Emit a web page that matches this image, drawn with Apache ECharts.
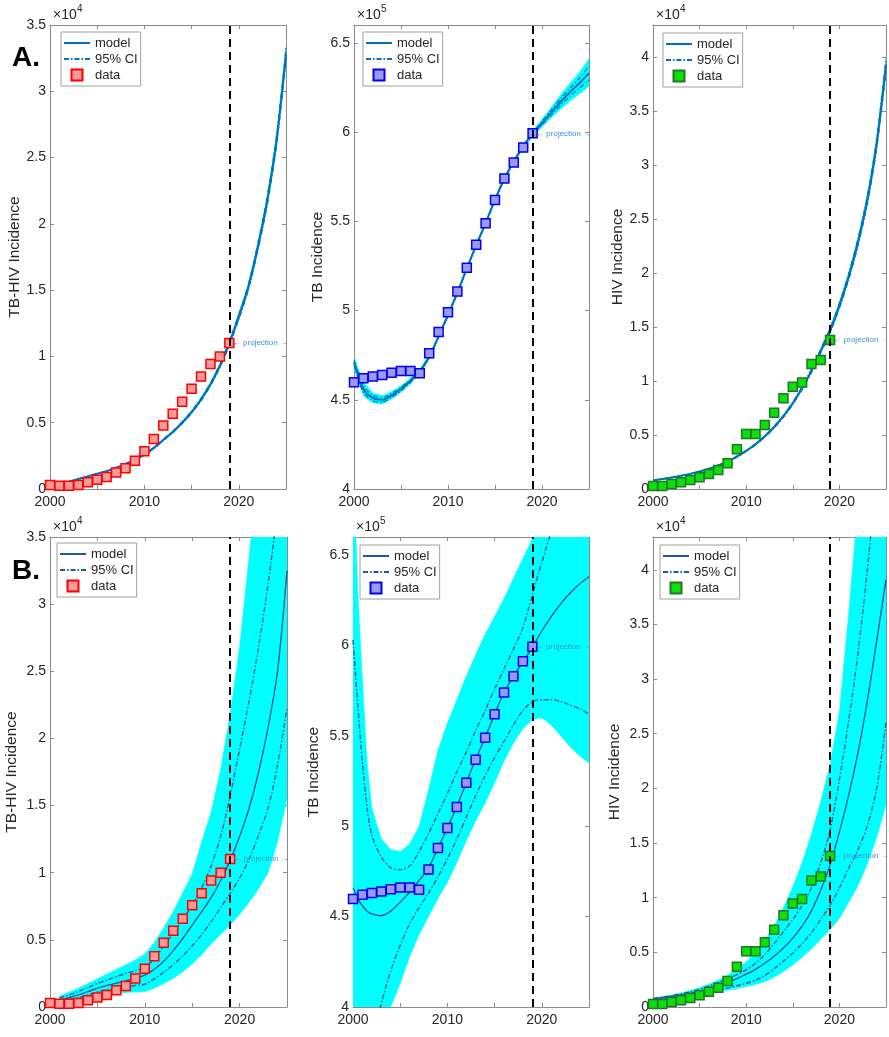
<!DOCTYPE html>
<html><head><meta charset="utf-8">
<script src="https://cdn.jsdelivr.net/npm/echarts@6/dist/echarts.min.js"></script>
<style>html,body{margin:0;padding:0;background:#fff}#c{width:889px;height:1037px}</style>
</head><body><div id="c"></div>
<script>
// ---------- years ----------
const dataYears = [2000,2001,2002,2003,2004,2005,2006,2007,2008,2009,2010,2011,2012,2013,2014,2015,2016,2017,2018,2019];
const yrs00 = [2000,2001,2002,2003,2004,2005,2006,2007,2008,2009,2010,2011,2012,2013,2014,2015,2016,2017,2018,2019,2020,2021,2022,2023,2024,2025];
const yrs01 = [2001,2002,2003,2004,2005,2006,2007,2008,2009,2010,2011,2012,2013,2014,2015,2016,2017,2018,2019,2020,2021,2022,2023,2024,2025];
const yrsB2 = [2000,2000.25,2000.5,2001,2001.5,2002,2003,2004,2005,2006,2007,2008,2009,2010,2011,2012,2013,2014,2015,2016,2017,2018,2019,2020,2021,2022,2023,2024,2025];

// ---------- observed data ----------
const tbhivData = [300,250,250,300,500,700,900,1240,1570,2130,2840,3770,4790,5670,6580,7570,8480,9420,10000,11020];
const tbData = [459800,462100,463000,463900,465200,466100,466100,464900,476000,488000,499000,510600,524000,536800,548900,561900,574000,582900,591300,599300];
const hivData = [280,280,460,620,830,1080,1390,1760,2380,3680,5100,5100,5930,7070,8400,9480,9880,11580,11950,13810];

// ---------- A: TB-HIV (2001-2025) ----------
const a1Model = [400,550,750,950,1150,1350,1600,1900,2200,2600,3100,3700,4300,5000,5800,6750,7900,9300,11000,13000,15200,18200,21700,26300,32800];
const a1CiUp  = [410,560,760,965,1170,1370,1625,1930,2235,2640,3150,3760,4370,5080,5890,6860,8020,9440,11170,13200,15430,18480,22030,26700,33300];
const a1CiLo  = [390,540,740,935,1130,1330,1575,1870,2165,2560,3050,3640,4230,4920,5710,6640,7780,9160,10830,12800,14970,17920,21370,25900,32300];
// ---------- A: TB (2000-2025) ----------
const a2Model  = [471000,456000,451000,450000,452500,456000,460500,466000,474000,485500,497500,510000,523500,536500,549000,562000,574000,583500,592000,599000,605000,611000,617000,622500,627500,633000];
const a2CiUp   = [472500,458000,452500,451300,453600,457000,461300,466600,474500,485900,497900,510300,523800,536800,549300,562300,574300,583800,592400,599600,606000,612400,618900,624700,630300,636800];
const a2CiLo   = [469500,454000,449500,448700,451400,455000,459700,465400,473500,485100,497100,509700,523200,536200,548700,561700,573700,583200,591600,598400,604000,609600,615100,620300,624700,629200];
const a2BandUp = [473800,459800,453800,452400,454500,457800,462000,467200,475000,486300,498300,510700,524200,537200,549700,562700,574700,584200,592900,600400,607200,614000,621000,627400,633700,641000];
const a2BandLo = [468200,452200,448200,447600,450500,454200,459000,464800,473000,484700,496700,509300,522800,535800,548300,561300,573300,582800,591100,597600,602800,608000,613000,617600,621500,625500];
// ---------- A: HIV (2000-2025) ----------
const a3Model = [800,920,1060,1220,1400,1620,1880,2180,2550,3000,3530,4150,4880,5750,6750,7950,9350,10950,12800,14700,17000,19700,22900,26800,32000,39300];
const a3CiUp  = [810,935,1075,1240,1420,1645,1910,2215,2590,3045,3585,4215,4955,5840,6855,8070,9490,11115,12990,14920,17260,20000,23250,27200,32480,39900];
const a3CiLo  = [790,905,1045,1200,1380,1595,1850,2145,2510,2955,3475,4085,4805,5660,6645,7830,9210,10785,12610,14480,16740,19400,22550,26400,31520,38700];

// ---------- B: TB-HIV (2001-2025) ----------
const b1BandUp = [800,1100,1400,1750,2100,2450,2800,3150,3500,3950,4800,5900,7100,8500,9900,12300,14500,17700,21800,26800,33500,41000,50000,60000,72000];
const b1CiUp   = [680,900,1150,1450,1750,2000,2250,2500,2700,2950,3600,4550,5500,6500,7600,8900,10500,12700,15700,19200,22800,26800,31500,37000,43000];
const b1Model  = [500,700,900,1150,1400,1600,1780,1950,2130,2370,2800,3400,4200,5100,6100,7100,8150,9400,10900,12700,14800,17500,20800,25000,32500];
const b1CiLo   = [430,560,700,900,1130,1280,1400,1500,1600,1700,2100,2600,3150,3800,4550,5400,6350,7400,8450,9600,11000,12800,14800,18000,22300];
const b1BandLo = [380,450,550,700,850,950,1020,1080,1120,1150,1400,1750,2150,2600,3200,3900,4700,5400,6100,6900,7800,8800,10000,12300,15500];
// ---------- B: TB (yrsB2) ----------
const b2BandUp = [700000,670000,630000,580000,535000,510000,493000,487000,486000,490000,500000,520000,542000,557000,570000,583000,595000,606000,616000,626000,637000,648000,659000,670000,680000,690000,700000,700000,700000];
const b2CiUp   = [603000,585000,567000,535000,510000,495000,483000,477000,476000,478000,486000,496000,507000,518000,530000,541000,553000,564000,576000,587000,598000,610000,628000,646000,663000,680000,695000,710000,725000];
const b2Model  = [466000,463000,460000,456000,453000,451500,450500,453000,458000,463500,470000,477000,488000,499000,511000,524000,537000,549000,562000,574000,583000,591000,599000,608000,616000,623000,629000,634000,638000];
const b2CiLo   = [355000,358000,361000,366000,372000,380000,402000,420000,434000,446000,455000,463000,472000,482000,493000,505000,517000,528000,538000,547000,556000,564000,569000,570000,570000,569000,567000,565000,562000];
const b2BandLo = [350000,352000,355000,360000,365000,370000,385000,400000,413000,428000,440000,450000,460000,469000,480000,492000,503000,513000,524000,536000,546000,554000,559000,560000,556000,550000,544000,539000,535000];
// ---------- B: HIV (2000-2025) ----------
const b3BandUp = [800,940,1100,1290,1510,1770,2080,2450,2900,3450,4100,5000,6100,7400,9100,11000,13200,15800,18800,22200,27000,36000,46000,56000,68000,82000];
const b3CiUp   = [780,900,1040,1200,1390,1620,1900,2230,2600,2970,3400,4000,4800,5800,6900,8000,9300,10900,13200,16200,20800,26200,32400,40000,49000,60000];
const b3Model  = [750,850,970,1100,1260,1450,1680,1950,2250,2600,3000,3450,4000,4650,5400,6300,7400,8800,10700,13000,16000,19400,23300,28000,33500,39100];
const b3CiLo   = [720,800,900,1000,1120,1250,1400,1560,1750,1950,2150,2450,2900,3500,4200,4950,5800,6800,8000,9300,10900,12700,14400,16600,20000,26000];
const b3BandLo = [700,760,840,930,1030,1140,1260,1390,1530,1690,1870,2070,2300,2750,3250,3850,4550,5300,6200,7100,8100,9600,11100,13100,15500,18500];

const projectionYear = 2019;
const legendLabels = {model: 'model', ci: '95% CI', data: 'data'};
const yTitles = ['TB-HIV Incidence', 'TB Incidence', 'HIV Incidence'];

// ---------- layout / style ----------
const FONT = '"Liberation Sans", Arial, Helvetica, sans-serif';
const AX = '#8c8c8c';
const TXT = '#262626';
const red = {face: '#F79A9A', edge: '#FF0000'};
const blue = {face: '#9A9AF2', edge: '#0000EE'};
const green = {face: '#0BE00B', edge: '#227722'};

const panels = [
  {g:{left:50,top:25,width:236,height:464}, yMin:0, yMax:35000, yInt:5000, sc:1e4, exp:'4', title:yTitles[0], gap:24,
   xs:yrs01, model:a1Model, ciUp:a1CiUp, ciLo:a1CiLo, bUp:a1CiUp, bLo:a1CiLo, data:tbhivData, col:red,
   leg:{left:61,top:32}, lc:'#0072BD', lw:2, cw:1.2},
  {g:{left:354,top:25,width:235,height:464}, yMin:400000, yMax:660000, yInt:50000, sc:1e5, exp:'5', title:yTitles[1], gap:28,
   xs:yrs00, model:a2Model, ciUp:a2CiUp, ciLo:a2CiLo, bUp:a2BandUp, bLo:a2BandLo, data:tbData, col:blue,
   leg:{left:363,top:32}, lc:'#0072BD', lw:2, cw:1.2},
  {g:{left:653,top:25,width:235,height:464}, yMin:0, yMax:43000, yInt:5000, sc:1e4, exp:'4', title:yTitles[2], gap:27,
   xs:yrs00, model:a3Model, ciUp:a3CiUp, ciLo:a3CiLo, bUp:a3CiUp, bLo:a3CiLo, data:hivData, col:green,
   leg:{left:663,top:33}, lc:'#0072BD', lw:2, cw:1.2},
  {g:{left:50,top:537,width:237,height:470}, yMin:0, yMax:35000, yInt:5000, sc:1e4, exp:'4', title:yTitles[0], gap:30,
   xs:yrs01, model:b1Model, ciUp:b1CiUp, ciLo:b1CiLo, bUp:b1BandUp, bLo:b1BandLo, data:tbhivData, col:red,
   leg:{left:57,top:543}, lc:'#1E5AA0', lw:1.4, cw:1.4},
  {g:{left:353,top:537,width:236,height:470}, yMin:400000, yMax:660000, yInt:50000, sc:1e5, exp:'5', title:yTitles[1], gap:31,
   xs:yrsB2, model:b2Model, ciUp:b2CiUp, ciLo:b2CiLo, bUp:b2BandUp, bLo:b2BandLo, data:tbData, col:blue,
   leg:{left:360,top:545}, lc:'#1E5AA0', lw:1.4, cw:1.4},
  {g:{left:653,top:537,width:235,height:470}, yMin:0, yMax:43000, yInt:5000, sc:1e4, exp:'4', title:yTitles[2], gap:30,
   xs:yrs00, model:b3Model, ciUp:b3CiUp, ciLo:b3CiLo, bUp:b3BandUp, bLo:b3BandLo, data:hivData, col:green,
   leg:{left:660,top:545}, lc:'#1E5AA0', lw:1.4, cw:1.4}
];

const DASHDOT = [5, 2, 1.5, 2];
const SQUARE = 'path://M0,0L10,0L10,10L0,10Z';
const grid = [], xAxis = [], yAxis = [], series = [], legend = [], graphic = [];

panels.forEach((p, i) => {
  grid.push(Object.assign({containLabel:false}, p.g));
  const common = {axisLine:{show:true,onZero:false,lineStyle:{color:AX,width:1}},
                  axisTick:{show:true,inside:true,length:4,lineStyle:{color:AX,width:1}},
                  splitLine:{show:false}};
  xAxis.push(Object.assign({gridIndex:i, type:'value', min:2000, max:2025, interval:5, position:'bottom',
    axisLabel:{formatter:v => (v % 10 === 0 ? String(v) : ''), fontSize:14, color:TXT, fontFamily:FONT, margin:6}}, common));
  xAxis.push(Object.assign({gridIndex:i, type:'value', min:2000, max:2025, interval:5, position:'top',
    axisLabel:{show:false}}, common));
  yAxis.push(Object.assign({gridIndex:i, type:'value', min:p.yMin, max:p.yMax, interval:p.yInt, position:'left',
    name:p.title, nameLocation:'middle', nameGap:p.gap,
    nameTextStyle:{fontSize:15.5, color:TXT, fontFamily:FONT},
    axisLabel:{formatter:v => String(+(v / p.sc).toFixed(2)), fontSize:14, color:TXT, fontFamily:FONT, margin:4,
               showMaxLabel: p.yMax % p.yInt === 0}}, common));
  yAxis.push(Object.assign({gridIndex:i, type:'value', min:p.yMin, max:p.yMax, interval:p.yInt, position:'right',
    axisLabel:{show:false}}, common));

  const xi = 2 * i, yi = 2 * i;
  // ensemble band
  series.push({
    type:'custom', xAxisIndex:xi, yAxisIndex:yi, z:1, silent:true, clip:true,
    data:[[p.xs[0], p.yMin]],
    renderItem: function (params, api) {
      if (params.dataIndex !== 0) return null;
      const pts = [];
      for (let k = 0; k < p.xs.length; k++) pts.push(api.coord([p.xs[k], p.bUp[k]]));
      for (let k = p.xs.length - 1; k >= 0; k--) pts.push(api.coord([p.xs[k], p.bLo[k]]));
      const cs = params.coordSys;
      return {type:'group', clipPath:{type:'rect', shape:{x:cs.x, y:cs.y, width:cs.width, height:cs.height}},
        children:[{type:'polygon', shape:{points:pts}, style:{fill:'#00FFFF', stroke:'#00FFFF', lineWidth:0.6}}]};
    }
  });
  const mkLine = (name, ys, width, type, z) => ({
    type:'line', name:name, xAxisIndex:xi, yAxisIndex:yi, data:p.xs.map((x, k) => [x, ys[k]]),
    symbol:'none', showSymbol:false, smooth:0.3, clip:true, silent:true, z:z,
    lineStyle:{color:p.lc, width:width, type:type}, itemStyle:{color:p.lc}
  });
  series.push(mkLine('ci_' + i, p.ciUp, p.cw, DASHDOT, 2));
  series.push(mkLine('ci_' + i, p.ciLo, p.cw, DASHDOT, 2));
  series.push(mkLine('model_' + i, p.model, p.lw, 'solid', 3));
  const last = p.data[p.data.length - 1];
  series.push({
    type:'scatter', name:'data_' + i, xAxisIndex:xi, yAxisIndex:yi, z:4, silent:true,
    data:dataYears.map((x, k) => [x, p.data[k]]),
    symbol:'rect', symbolSize:9,
    itemStyle:{color:p.col.face, borderColor:p.col.edge, borderWidth:1.5, opacity:1},
    markLine:{silent:true, symbol:['none','none'], label:{show:false}, animation:false,
      lineStyle:{color:'#000', width:2, type:[8,5]}, data:[{xAxis:projectionYear}]},
    markPoint:{silent:true, symbol:'circle', symbolSize:1, itemStyle:{color:'rgba(0,0,0,0)'}, animation:false,
      label:{show:true, position:'right', distance:3, formatter:'\u2190 projection \u2192', fontSize:8, color:'#3d8ed6', fontFamily:FONT},
      data:[{coord:[projectionYear, last]}]}
  });

  legend.push({
    left:p.leg.left, top:p.leg.top, orient:'vertical', selectedMode:false,
    data:[
      {name:'model_' + i, itemStyle:{opacity:0}},
      {name:'ci_' + i, itemStyle:{opacity:0}},
      {name:'data_' + i, icon:SQUARE}
    ],
    formatter: n => legendLabels[n.split('_')[0]],
    itemWidth:26, itemHeight:11, itemGap:2, padding:[4,3,4,2], symbolKeepAspect:true,
    backgroundColor:'#fff', borderColor:'#a0a0a0', borderWidth:1, borderRadius:0,
    textStyle:{fontSize:13, color:TXT, fontFamily:FONT, lineHeight:14}
  });

  // x10^n exponent
  const ex = p.g.left + 3, ey = p.g.top - 10;
  graphic.push({type:'text', x:ex, y:ey, silent:true,
    style:{text:'\u00d710', fontSize:14, fontFamily:FONT, fill:TXT, verticalAlign:'middle', textVerticalAlign:'middle'}});
  graphic.push({type:'text', x:ex + 24, y:ey - 6, silent:true,
    style:{text:p.exp, fontSize:10, fontFamily:FONT, fill:TXT, verticalAlign:'middle', textVerticalAlign:'middle'}});
});

graphic.push({type:'text', x:12, y:58, silent:true,
  style:{text:'A.', fontSize:28, fontWeight:'bold', fontFamily:FONT, fill:'#000', verticalAlign:'middle', textVerticalAlign:'middle'}});
graphic.push({type:'text', x:12, y:571, silent:true,
  style:{text:'B.', fontSize:28, fontWeight:'bold', fontFamily:FONT, fill:'#000', verticalAlign:'middle', textVerticalAlign:'middle'}});

const chart = echarts.init(document.getElementById('c'), null, {renderer:'canvas'});
chart.setOption({animation:false, backgroundColor:'#fff', grid, xAxis, yAxis, series, legend, graphic});
</script>
</body></html>
